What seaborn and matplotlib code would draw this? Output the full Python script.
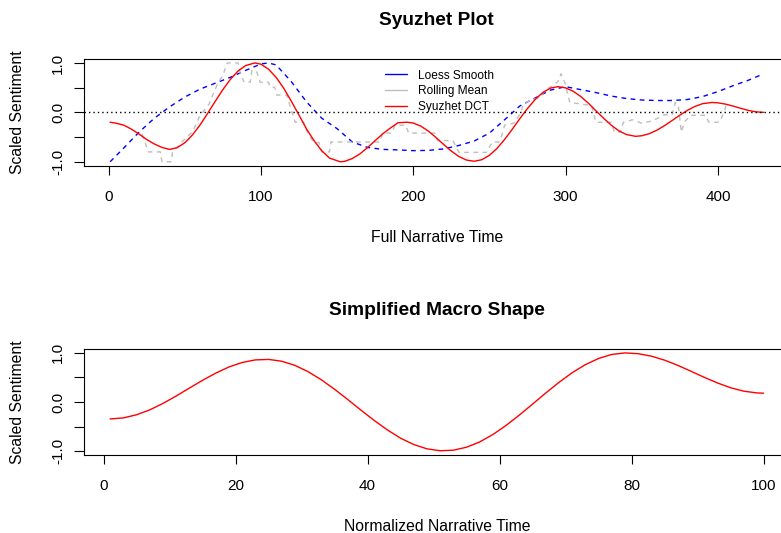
import matplotlib
matplotlib.use("Agg")
import matplotlib.pyplot as plt
from matplotlib.lines import Line2D
import pandas as pd
import seaborn as sns

# ---- Full narrative time (430 sentences) ----
loess_x = [1, 10, 20, 30, 40, 50, 60, 70, 80, 90, 100, 105, 110, 120, 130, 140,
           150, 160, 170, 180, 190, 200, 210, 220, 230, 240, 250, 260, 270, 280,
           290, 300, 310, 320, 330, 340, 350, 360, 370, 380, 390, 400, 410, 420, 430]
loess_y = [-1.00, -0.72, -0.40, -0.12, 0.11, 0.31, 0.47, 0.59, 0.71, 0.85, 0.98, 1.00,
           0.96, 0.62, 0.21, -0.12, -0.33, -0.60, -0.71, -0.75, -0.76, -0.775, -0.77,
           -0.74, -0.67, -0.58, -0.42, -0.15, 0.13, 0.29, 0.45, 0.52, 0.46, 0.40,
           0.33, 0.28, 0.25, 0.24, 0.24, 0.26, 0.32, 0.42, 0.54, 0.65, 0.78]

rolling_x = [22, 24, 26, 34, 35, 41, 42, 46, 49, 52, 55, 58, 60, 63, 66, 69, 72, 75,
             77.5, 78, 85, 86.5, 89, 93, 94, 97, 99.5, 105, 106, 109, 110.5, 117, 119,
             122.5, 128, 130, 134.5, 138, 140, 145, 146, 178, 180, 186, 188, 195, 197,
             214, 216, 226, 230, 248, 252, 256, 258, 260, 266, 270, 272.5, 278, 283,
             287, 291, 295, 297, 299.5, 302.8, 317, 320, 330, 332, 336, 338, 344, 350,
             356, 362, 365, 370, 372, 374, 376, 378, 382, 392, 394, 401, 404, 406]
rolling_y = [-0.44, -0.61, -0.80, -0.80, -1.00, -1.00, -0.80, -0.67, -0.57, -0.48,
             -0.40, -0.20, -0.06, 0.05, 0.17, 0.40, 0.61, 0.74, 0.98, 1.00, 1.00, 0.78,
             0.61, 0.61, 0.84, 0.84, 0.61, 0.61, 0.51, 0.51, 0.35, 0.35, 0.14, -0.20,
             -0.20, -0.37, -0.61, -0.61, -0.80, -0.80, -0.60, -0.60, -0.42, -0.42,
             -0.26, -0.26, -0.42, -0.42, -0.57, -0.57, -0.81, -0.81, -0.60, -0.60,
             -0.48, -0.26, -0.22, -0.04, 0.17, 0.26, 0.30, 0.46, 0.53, 0.62, 0.78,
             0.60, 0.20, 0.14, -0.20, -0.20, -0.40, -0.40, -0.20, -0.15, -0.22, -0.18,
             -0.10, -0.05, -0.05, 0.20, 0.15, -0.40, -0.20, -0.06, -0.06, -0.20, -0.20,
             0.00, 0.20]

dct_x = [1, 5, 10, 15, 20, 25, 30, 35, 40, 45, 50, 55, 60, 65, 70, 75, 80, 85, 90,
         96, 100, 105, 110, 115, 120, 125, 130, 135, 140, 145, 152, 155, 160, 165,
         170, 175, 180, 185, 190, 196, 200, 205, 210, 215, 220, 225, 230, 235, 240,
         245, 250, 255, 260, 265, 270, 275, 280, 285, 290, 295, 300, 305, 310, 315,
         320, 325, 330, 335, 340, 346, 350, 355, 360, 365, 370, 375, 380, 385, 390,
         396, 400, 405, 410, 415, 420, 425, 430]
dct_y = [-0.20, -0.22, -0.26, -0.34, -0.44, -0.55, -0.64, -0.71, -0.75, -0.716,
         -0.616, -0.459, -0.256, -0.021, 0.223, 0.46, 0.67, 0.838, 0.948, 1.00,
         0.975, 0.875, 0.707, 0.487, 0.223, -0.056, -0.34, -0.578, -0.78, -0.925,
         -1.00, -0.991, -0.935, -0.84, -0.713, -0.572, -0.434, -0.317, -0.21, -0.20,
         -0.216, -0.279, -0.381, -0.511, -0.651, -0.784, -0.894, -0.966, -0.99,
         -0.959, -0.87, -0.73, -0.548, -0.342, -0.127, 0.078, 0.26, 0.40, 0.49, 0.52,
         0.496, 0.428, 0.32, 0.185, 0.03, -0.12, -0.26, -0.374, -0.45, -0.485,
         -0.474, -0.432, -0.36, -0.268, -0.164, -0.057, 0.041, 0.121, 0.176, 0.20,
         0.193, 0.167, 0.127, 0.082, 0.04, 0.01, 0.00]

# ---- Normalized narrative time (100 steps) ----
macro_x = [1, 3, 5, 7, 9, 11, 13, 15, 17, 19, 21, 23, 25, 27, 29, 31, 33, 35, 37,
           39, 41, 43, 45, 47, 49, 51, 53, 55, 57, 59, 61, 63, 65, 67, 69, 71, 73,
           75, 77, 79, 81, 83, 85, 87, 89, 91, 93, 95, 97, 99, 100]
macro_y = [-0.345, -0.324, -0.260, -0.160, -0.029, 0.122, 0.283, 0.442, 0.589,
           0.714, 0.805, 0.858, 0.868, 0.831, 0.746, 0.618, 0.453, 0.260, 0.051,
           -0.165, -0.375, -0.568, -0.737, -0.866, -0.954, -0.993, -0.982, -0.921,
           -0.813, -0.662, -0.476, -0.266, -0.043, 0.184, 0.400, 0.597, 0.761,
           0.887, 0.969, 1.000, 0.985, 0.934, 0.853, 0.747, 0.627, 0.504, 0.389,
           0.291, 0.221, 0.185, 0.180]

n_full = 430
n_norm = 100
legend_labels = ["Loess Smooth", "Rolling Mean", "Syuzhet DCT"]
legend_colors = ["blue", "#BEBEBE", "red"]

sns.set_theme(style="white")
plt.rcParams["font.family"] = ["Liberation Sans", "DejaVu Sans"]
plt.rcParams.update({
    "axes.edgecolor": "black",
    "axes.linewidth": 0.8,
    "xtick.color": "black",
    "ytick.color": "black",
    "xtick.bottom": True,
    "ytick.left": True,
    "xtick.direction": "out",
    "ytick.direction": "out",
    "xtick.major.size": 6.8,
    "ytick.major.size": 7.2,
    "xtick.major.width": 0.8,
    "ytick.major.width": 0.8,
    "xtick.major.pad": 10.5,
    "ytick.major.pad": 6.5,
    "xtick.labelsize": 11,
    "ytick.labelsize": 11,
    "text.color": "black",
    "axes.labelcolor": "black",
})

fig = plt.figure(figsize=(7.81, 5.33), dpi=100, facecolor="white")
ax1 = fig.add_axes([0.10755, 0.6891, 0.9036, 0.2002])
ax2 = fig.add_axes([0.10755, 0.1463, 0.9036, 0.1989])

df_lo = pd.DataFrame({"x": loess_x, "y": loess_y})
df_roll = pd.DataFrame({"x": rolling_x, "y": rolling_y})
df_dct = pd.DataFrame({"x": dct_x, "y": dct_y})
df_macro = pd.DataFrame({"x": macro_x, "y": macro_y})

line_kw = dict(estimator=None, sort=False, legend=False, linewidth=1.0)
sns.lineplot(data=df_lo, x="x", y="y", ax=ax1, color="blue",
             linestyle=(0, (3.4, 3.2)), **line_kw)
sns.lineplot(data=df_roll, x="x", y="y", ax=ax1, color="#BEBEBE",
             linestyle=(0, (3.4, 3.2)), **line_kw)
sns.lineplot(data=df_dct, x="x", y="y", ax=ax1, color="red", **line_kw)
ax1.axhline(0, color="black", linewidth=1.0, linestyle=(0, (1, 2.2)))

sns.lineplot(data=df_macro, x="x", y="y", ax=ax2, color="red", **line_kw)


def frame(ax, n, ticks, title, xlabel):
    pad = 0.04 * (n - 1)
    ax.set_xlim(1 - pad, n + pad)
    ax.set_ylim(-1.08, 1.08)
    ax.set_xticks(ticks)
    ax.set_xticklabels([str(t) for t in ticks])
    ax.set_yticks([-1, -0.5, 0, 0.5, 1])
    ax.set_yticklabels(["-1.0", "", "0.0", "", "1.0"], rotation=90,
                       va="center", ha="right")
    for side in ["top", "right", "bottom", "left"]:
        ax.spines[side].set_visible(True)
        ax.spines[side].set_color("black")
    ax.set_title(title, fontsize=13.8, fontweight="bold", pad=24.5)
    ax.set_xlabel(xlabel, fontsize=11.3)
    ax.set_ylabel("Scaled Sentiment", fontsize=11.3)
    ax.xaxis.set_label_coords(0.5, -0.603)
    ax.yaxis.set_label_coords(-0.083, 0.5)
    ax.grid(False)


frame(ax1, n_full, [0, 100, 200, 300, 400], "Syuzhet Plot", "Full Narrative Time")
frame(ax2, n_norm, [0, 20, 40, 60, 80, 100], "Simplified Macro Shape",
      "Normalized Narrative Time")

handles = [Line2D([], [], color=c, linewidth=1.0) for c in legend_colors]
ax1.legend(handles, legend_labels, loc="upper left",
           bbox_to_anchor=(0.4265, 0.90), frameon=False, fontsize=8.6,
           handlelength=1.85, handletextpad=0.9, labelspacing=0.3,
           borderpad=0, borderaxespad=0)

fig.savefig("out.png", dpi=100, facecolor="white")
